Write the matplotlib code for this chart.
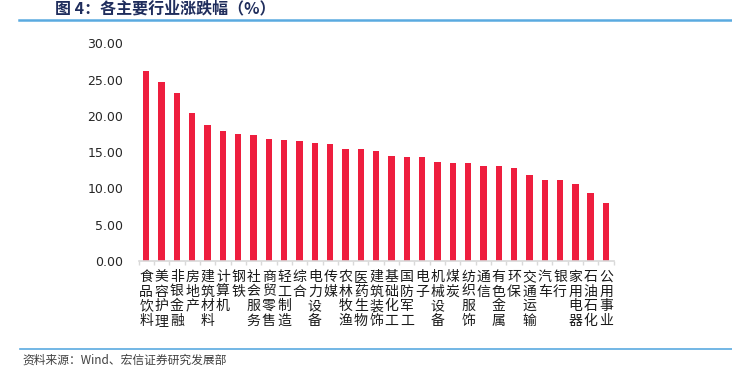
import matplotlib
matplotlib.use("Agg")
import matplotlib.pyplot as plt
import numpy as np

plt.rcParams['font.family'] = ['Noto Sans CJK SC', 'DejaVu Sans']

industries = ["食品饮料", "美容护理", "非银金融", "房地产", "建筑材料", "计算机", "钢铁",
              "社会服务", "商贸零售", "轻工制造", "综合", "电力设备", "传媒", "农林牧渔",
              "医药生物", "建筑装饰", "基础化工", "国防军工", "电子", "机械设备", "煤炭",
              "纺织服饰", "通信", "有色金属", "环保", "交通运输", "汽车", "银行",
              "家用电器", "石油石化", "公用事业"]
changes = [26.25, 24.62, 23.22, 20.33, 18.70, 17.91, 17.45, 17.41, 16.77, 16.63, 16.54,
           16.26, 16.08, 15.43, 15.39, 15.16, 14.47, 14.38, 14.29, 13.69, 13.50, 13.50,
           13.14, 13.05, 12.77, 11.85, 11.16, 11.12, 10.57, 9.33, 8.04]
yticks = [0, 5, 10, 15, 20, 25, 30]

W, H = 732, 366
fig = plt.figure(figsize=(W / 100, H / 100), dpi=100)
ax = fig.add_axes([138.6 / W, (H - 261) / H, (613.7 - 138.6) / W, (261 - 43.3) / H])

x = np.arange(len(industries))
ax.bar(x, changes, width=0.42, color='#EE1E3E', zorder=2)
ax.set_xlim(-0.5, len(industries) - 0.5)
ax.set_ylim(0, 30)
ax.set_yticks(yticks)
ax.set_yticklabels([f"{v:.2f}" for v in yticks], fontsize=9, color='#262626',
                   family=['DejaVu Sans'])
ax.tick_params(axis='y', length=0, pad=11)

ax.set_xticks(x)
ax.set_xticklabels(['\n'.join(s) for s in industries], fontsize=10, color='#1a1a1a',
                   linespacing=1.05, va='top')
ax.tick_params(axis='x', which='major', length=0, pad=6.5)
ax.set_xticks(np.arange(-0.5, len(industries) + 0.5, 1), minor=True)
ax.tick_params(axis='x', which='minor', length=3, color='#D9D9D9', width=1)

for s in ['top', 'right', 'left']:
    ax.spines[s].set_visible(False)
ax.spines['bottom'].set_color('#D9D9D9')
ax.spines['bottom'].set_linewidth(1.2)

# title and header line
fig.text(55 / W, 1 - 8.5 / H, "图 4：各主要行业涨跌幅（%）", fontsize=11.5, fontweight='bold',
         color='#1F2D5C', va='center', ha='left')
fig.add_artist(plt.Line2D([19 / W, 1], [1 - 19.5 / H, 1 - 19.5 / H], color='#5AAAE0',
                          linewidth=1.8, transform=fig.transFigure))

# footer
fig.add_artist(plt.Line2D([20 / W, 1], [1 - 349 / H, 1 - 349 / H], color='#5AAAE0',
                          linewidth=1.2, transform=fig.transFigure))
fig.text(22 / W, 1 - 360 / H, "资料来源：Wind、宏信证券研究发展部", fontsize=8.5,
         color='#404040', va='center', ha='left')

fig.savefig("out.png", dpi=100)
